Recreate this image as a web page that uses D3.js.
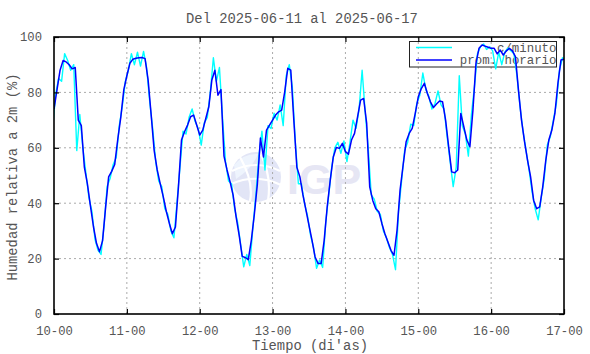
<!DOCTYPE html>
<html>
<head>
<meta charset="utf-8">
<script src="https://cdn.jsdelivr.net/npm/d3@7"></script>
<style>
  body { margin: 0; background: #fff; }
  text { font-family: "Liberation Mono", monospace; fill: #555; }
</style>
</head>
<body>
<div id="graph"></div>
<script>
// etiquetas del eje x (una por dia, cada 24 h)
const dias = ["10-00", "11-00", "12-00", "13-00", "14-00", "15-00", "16-00", "17-00"];
const yTicks = [0, 20, 40, 60, 80, 100];

// promedio horario, un valor por hora desde 10-00
const promHorario = [
  74, 81, 88, 91.5, 91, 90, 88.5, 89, 70, 68, 53, 47, 39, 31.5, 25.5, 22.5, 26.5, 38.5, 49.5, 51.5, 54, 63, 71, 81,
  86, 90.5, 92, 92.3, 92.5, 92.6, 92.2, 84.5, 72, 59, 52, 47, 42.3, 37, 32.7, 29, 31.4, 46, 62.8, 65.8, 68.2, 71.2, 71.8, 68.2,
  64.6, 66.4, 70.6, 74.8, 84.5, 88, 79, 81, 57, 52, 47.7, 42.9, 35, 28.4, 20.8, 20.4, 19.6, 26.6, 36, 47, 63.5, 56.7, 66.4, 68.2,
  70, 71.8, 73, 73.6, 80.2, 88.7, 88, 70, 53, 49.5, 43, 37.5, 32, 26.6, 20.6, 18.2, 18.2, 26.6, 38.7, 48.3, 56.7, 60.1, 59.8, 61.6,
  58.6, 57.7, 62.8, 65.2, 71.2, 77.2, 77.8, 68.8, 45.9, 41, 38, 36.9, 32.7, 29, 26, 23, 21.2, 30.2, 44.7, 53.7, 62.2, 65.2, 67, 72.4,
  78.4, 81.4, 83.3, 79.6, 76.6, 74.5, 75.8, 76.9, 76.6, 70, 60.4, 51.3, 51, 52, 72.4, 67.6, 62.8, 60.4, 73.6, 90.5, 95.9, 97.1, 96.7, 96.3,
  95.9, 95.9, 93.9, 95.3, 93.5, 95, 95.9, 95, 92.9, 80.8, 70, 62.2, 55.5, 49.5, 41, 38, 38.7, 45.9, 55.5, 62.8, 66.4, 72.4, 83.3, 91.7,
  92
];

// datos c/minuto, leidos cada hora a la media hora (desde -0.5 h)
const cMinuto = [
  66, 79, 85, 84, 94, 91.5, 88, 90, 59, 72, 60, 51, 42, 37, 27, 23, 21.5, 32, 46, 49, 54, 56.5, 68, 75,
  84, 88, 94, 90, 94.5, 89.5, 94.8, 89, 77, 67, 55, 48, 46, 38, 36, 30, 27.5, 40, 53, 66, 65, 71, 74, 69.5,
  67, 61, 69, 71, 80, 92.5, 84, 89, 71, 55, 48, 47, 38, 33, 25, 17, 21.5, 17.5, 31, 43, 57, 66, 52, 68,
  67, 72.5, 70, 75.5, 68, 86, 90, 82, 62, 47, 47, 40, 35.5, 28.5, 24, 16.5, 19.5, 16.8, 33, 43, 53, 60, 62, 58,
  62.5, 55, 62, 70, 67, 74, 88, 73, 60, 43, 41.5, 37, 36, 30, 27.5, 24, 21.5, 16, 37, 48, 59, 62, 68.5, 68,
  76, 79, 87, 81, 78.5, 74, 76, 80.5, 75.5, 74, 64, 55, 46, 53, 86, 68, 65, 57, 72, 82, 94, 96.5, 97.5, 95.5,
  96.5, 95, 88.5, 94.5, 90, 94.5, 96, 95, 94, 86, 75, 66, 59, 52, 44, 38, 34, 42, 49, 61, 64, 70, 76, 88,
  92.5, 92
];

var margin = { top: 37, right: 26, bottom: 40, left: 54 },
    width = 590 - margin.left - margin.right,
    height = 354 - margin.top - margin.bottom;

const x = d3.scaleLinear().domain([0, 24 * (dias.length - 1)]).range([0, width]);
const y = d3.scaleLinear().domain([0, 100]).range([height, 0]);
const dayTicks = dias.map((d, i) => i * 24);

const svg = d3.select("#graph").append("svg")
    .attr("width", 590)
    .attr("height", 354)
    .style("display", "block")
    .style("background", "#fff");

svg.append("defs").append("clipPath").attr("id", "clip")
  .append("rect").attr("width", width).attr("height", height);

const g = svg.append("g").attr("transform", `translate(${margin.left},${margin.top})`);

// titulo
svg.append("text")
    .attr("x", 302).attr("y", 23)
    .attr("text-anchor", "middle")
    .style("font-size", "13.8px")
    .text("Del 2025-06-11 al 2025-06-17");

// marca de agua IGP
const wm = g.append("g").attr("pointer-events", "none");
wm.append("circle").attr("cx", 202).attr("cy", 140).attr("r", 25).attr("fill", "#e2e5f6");
wm.append("path")
    .attr("d", "M180,128 Q190,116 204,117 Q198,132 182,142 Z")
    .attr("fill", "#eef4fd");
wm.append("path")
    .attr("d", "M178,134 Q202,122 226,134 M177,147 Q202,136 227,148 M186,120 Q200,145 196,164 M206,116 Q218,138 214,164")
    .attr("fill", "none").attr("stroke", "#fff").attr("stroke-width", 2.2);
wm.append("text")
    .attr("x", 233).attr("y", 157)
    .style("font-family", "'Liberation Sans', Arial, sans-serif")
    .style("font-weight", "bold")
    .style("font-size", "43px")
    .style("fill", "#e6e6f4")
    .text("IGP");

// rejilla punteada
g.append("g")
  .selectAll("line")
  .data(dayTicks.slice(1, -1))
  .join("line")
    .attr("x1", d => x(d)).attr("x2", d => x(d))
    .attr("y1", 0).attr("y2", height)
    .attr("stroke", "#aaa").attr("stroke-width", 1).attr("stroke-dasharray", "2,3");
g.append("g")
  .selectAll("line")
  .data(yTicks.slice(1, -1))
  .join("line")
    .attr("x1", 0).attr("x2", width)
    .attr("y1", d => y(d)).attr("y2", d => y(d))
    .attr("stroke", "#aaa").attr("stroke-width", 1).attr("stroke-dasharray", "2,3");

// leyenda (va debajo de las curvas, como en el original)
const leg = g.append("g");
leg.append("rect")
    .attr("x", 355.5).attr("y", 4.5).attr("width", 147).attr("height", 25.5)
    .attr("fill", "none").attr("stroke", "#222").attr("stroke-width", 1);
const legItems = [["c/minuto", "#00ffff"], ["prom. horario", "#0000ff"]];
legItems.forEach(([name, col], i) => {
  const yy = 10.5 + i * 12.5;
  leg.append("line")
      .attr("x1", 362).attr("x2", 398).attr("y1", yy).attr("y2", yy)
      .attr("stroke", col).attr("stroke-width", 1.5);
  leg.append("text")
      .attr("x", 502.5).attr("y", yy + 4)
      .attr("text-anchor", "end")
      .style("font-size", "12.4px")
      .text(name);
});

// curvas
const lineMin = d3.line().x((d, i) => x(i - 0.5)).y(d => y(d));
const lineHor = d3.line().x((d, i) => x(i)).y(d => y(d));
const curves = g.append("g").attr("clip-path", "url(#clip)");
curves.append("path")
    .datum(cMinuto)
    .attr("fill", "none").attr("stroke", "#00ffff").attr("stroke-width", 1.4)
    .attr("stroke-linejoin", "round")
    .attr("d", lineMin);
curves.append("path")
    .datum(promHorario)
    .attr("fill", "none").attr("stroke", "#0000ff").attr("stroke-width", 1.5)
    .attr("stroke-linejoin", "round")
    .attr("d", lineHor);

// ejes
const xBottom = g.append("g").attr("transform", `translate(0,${height})`)
    .call(d3.axisBottom(x).tickValues(dayTicks).tickFormat((d, i) => dias[i]).tickSize(-5).tickPadding(12));
const xTop = g.append("g")
    .call(d3.axisTop(x).tickValues(dayTicks).tickFormat("").tickSize(-5));
const yLeft = g.append("g")
    .call(d3.axisLeft(y).tickValues(yTicks).tickSize(-5).tickPadding(12));
const yRight = g.append("g").attr("transform", `translate(${width},0)`)
    .call(d3.axisRight(y).tickValues(yTicks).tickFormat("").tickSize(-5));
[xBottom, xTop, yLeft, yRight].forEach(a => {
  a.select(".domain").remove();
  a.selectAll(".tick line").attr("stroke", "#000").attr("stroke-width", 1.2);
  a.selectAll("text").style("font-family", "'Liberation Mono', monospace")
      .style("font-size", "12.2px").attr("fill", "#555");
});

g.append("rect")
    .attr("width", width).attr("height", height)
    .attr("fill", "none").attr("stroke", "#000").attr("stroke-width", 1.6);

// titulos de ejes
svg.append("text")
    .attr("x", 310).attr("y", 350)
    .attr("text-anchor", "middle")
    .style("font-size", "13.8px")
    .text("Tiempo (di'as)");
svg.append("text")
    .attr("transform", "translate(17,177) rotate(-90)")
    .attr("text-anchor", "middle")
    .style("font-size", "13.8px")
    .text("Humedad relativa a 2m (%)");
</script>
</body>
</html>
